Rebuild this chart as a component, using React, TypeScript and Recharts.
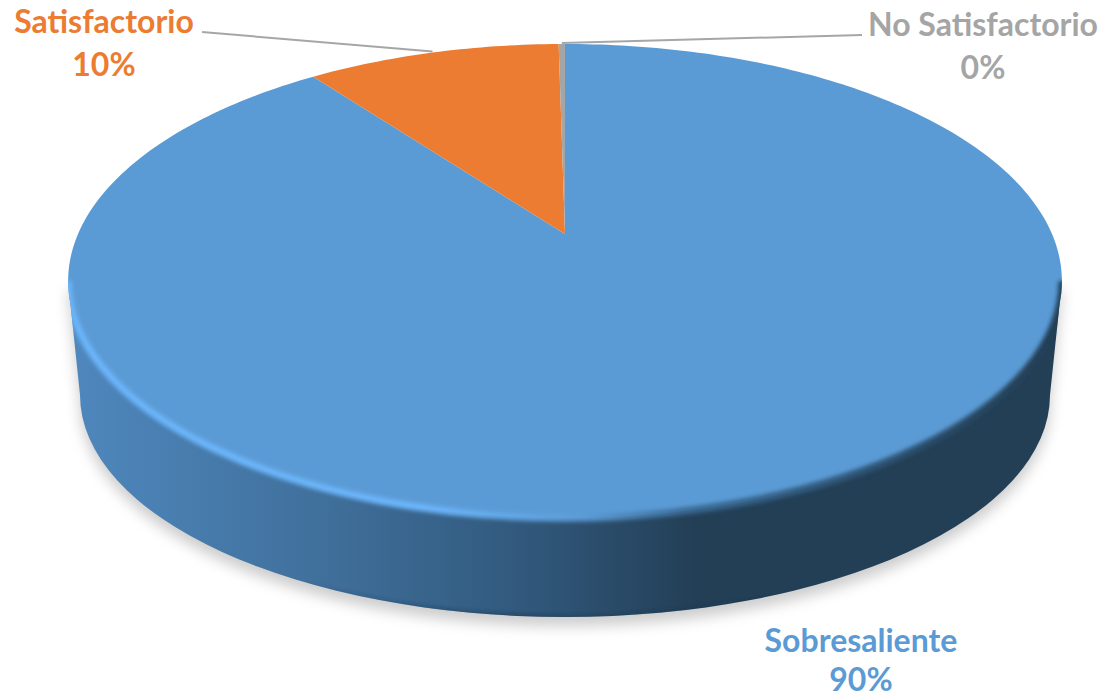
import React from 'react';
import { PieChart, Pie, Cell } from 'recharts';

const categories = ['Sobresaliente', 'Satisfactorio', 'No Satisfactorio'];
// the last slice is a hairline in the picture, it still rounds to 0%
const seriesValues = [90, 10, 0.25];
const colors = ['#5B9BD5', '#EB7C31', '#A5A5A5'];
const chartData = categories.map((name, i) => ({ name, value: seriesValues[i] }));

const CX = 565;
const CY = 281;
const RX = 497;
const RY = 237;
// tilt of the perspective: the pie centre sits above the ellipse centre
const TILT = 47 / 237;
const KX = 487;

const project = (deg: number, cx: number, cy: number) => {
  const a = (deg * Math.PI) / 180;
  const u = Math.cos(a);
  const v = Math.sin(a);
  const d = TILT * v + 1;
  return { x: cx + (KX * u) / d, y: cy + (-RY * v - RY * TILT) / d };
};

const sectorPath = (cx: number, cy: number, start: number, end: number) => {
  const steps = Math.max(2, Math.ceil(Math.abs(end - start)));
  let path = `M${cx},${cy - RY * TILT}`;
  for (let i = 0; i <= steps; i++) {
    const p = project(start + ((end - start) * i) / steps, cx, cy);
    path += `L${p.x.toFixed(2)},${p.y.toFixed(2)}`;
  }
  return path + 'Z';
};

const wallPath = `M${CX - RX},${CY}L80,395A485,222 0 0 0 1050,395L${CX + RX},${CY}Z`;
const rimPath = `M${CX - RX},${CY}A${RX},${RY} 0 0 0 ${CX + RX},${CY}`;
const footPath = 'M80,395A485,222 0 0 0 1050,395';

const PieFace = (props: any) => {
  const { cx, cy, startAngle, endAngle, fill, index } = props;
  const face = <path d={sectorPath(cx, cy, startAngle, endAngle)} fill={fill} stroke="none" />;
  if (index !== 0) return face;
  return (
    <g>
      <defs>
        <linearGradient id="wall" gradientUnits="userSpaceOnUse" x1="68" y1="0" x2="1062" y2="0">
          <stop offset="0" stopColor="#4F88BE" />
          <stop offset="0.25" stopColor="#40709C" />
          <stop offset="0.45" stopColor="#325A7E" />
          <stop offset="0.63" stopColor="#233F56" />
          <stop offset="1" stopColor="#233F56" />
        </linearGradient>
        <linearGradient id="rim" gradientUnits="userSpaceOnUse" x1="68" y1="0" x2="1062" y2="0">
          <stop offset="0" stopColor="#6CB6FB" />
          <stop offset="0.36" stopColor="#6CB6FB" />
          <stop offset="0.52" stopColor="#5B9BD5" />
          <stop offset="0.62" stopColor="#3A6A94" />
          <stop offset="1" stopColor="#233F56" />
        </linearGradient>
        <linearGradient id="foot" gradientUnits="userSpaceOnUse" x1="300" y1="0" x2="800" y2="0">
          <stop offset="0" stopColor="#1B3247" stopOpacity={0} />
          <stop offset="0.45" stopColor="#1B3247" stopOpacity={0.8} />
          <stop offset="1" stopColor="#1B3247" stopOpacity={0} />
        </linearGradient>
        <filter id="soft" filterUnits="userSpaceOnUse" x="0" y="0" width="1104" height="697">
          <feGaussianBlur stdDeviation="7" />
        </filter>
        <filter id="bevel" filterUnits="userSpaceOnUse" x="0" y="0" width="1104" height="697">
          <feGaussianBlur stdDeviation="2.2" />
        </filter>
        <clipPath id="body">
          <path d={wallPath} />
          <ellipse cx={CX} cy={CY} rx={RX} ry={RY} />
        </clipPath>
      </defs>
      <path d={wallPath} transform="translate(0 9)" fill="#000" fillOpacity={0.2} filter="url(#soft)" />
      <path d={wallPath} fill="url(#wall)" />
      {face}
      <g clipPath="url(#body)">
        <path d={rimPath} fill="none" stroke="url(#rim)" strokeWidth={7} filter="url(#bevel)" />
        <path d={footPath} fill="none" stroke="url(#foot)" strokeWidth={3} filter="url(#bevel)" />
      </g>
    </g>
  );
};

const labelSpots = [
  { x: 861, y: 652 },
  { x: 104, y: 33 },
  { x: 983, y: 36 },
];
const lineStarts = [null, { x: 202, y: 32 }, { x: 862, y: 35 }];

const renderLabel = (props: any) => {
  const { index, name, percent } = props;
  const spot = labelSpots[index];
  return (
    <text
      x={spot.x}
      y={spot.y}
      textAnchor="middle"
      fontFamily="Lato"
      fontWeight={700}
      fontSize={32}
      fill={colors[index]}
    >
      <tspan x={spot.x}>{name}</tspan>
      <tspan x={spot.x} dy={index === 0 ? 39 : 43}>{`${Math.round(percent * 100)}%`}</tspan>
    </text>
  );
};

const renderLine = (props: any) => {
  const { index, cx, cy, midAngle } = props;
  const from = lineStarts[index];
  if (!from) return <g />;
  const to = project(midAngle, cx, cy);
  return <path d={`M${from.x},${from.y}L${to.x},${to.y - 1}`} stroke="#A6A6A6" strokeWidth={2} fill="none" />;
};

export default function App() {
  return (
    <div style={{ position: 'absolute', left: 0, top: 0, width: 1104, height: 697 }}>
      <PieChart width={1104} height={697} margin={{ top: 0, right: 0, bottom: 0, left: 0 }}>
        <Pie
          data={chartData}
          dataKey="value"
          nameKey="name"
          cx={CX}
          cy={CY}
          innerRadius={0}
          outerRadius={RX}
          startAngle={90}
          endAngle={-270}
          stroke="none"
          isAnimationActive={false}
          shape={PieFace}
          label={renderLabel}
          labelLine={renderLine}
        >
          {chartData.map((d, i) => (
            <Cell key={d.name} fill={colors[i]} />
          ))}
        </Pie>
      </PieChart>
    </div>
  );
}
